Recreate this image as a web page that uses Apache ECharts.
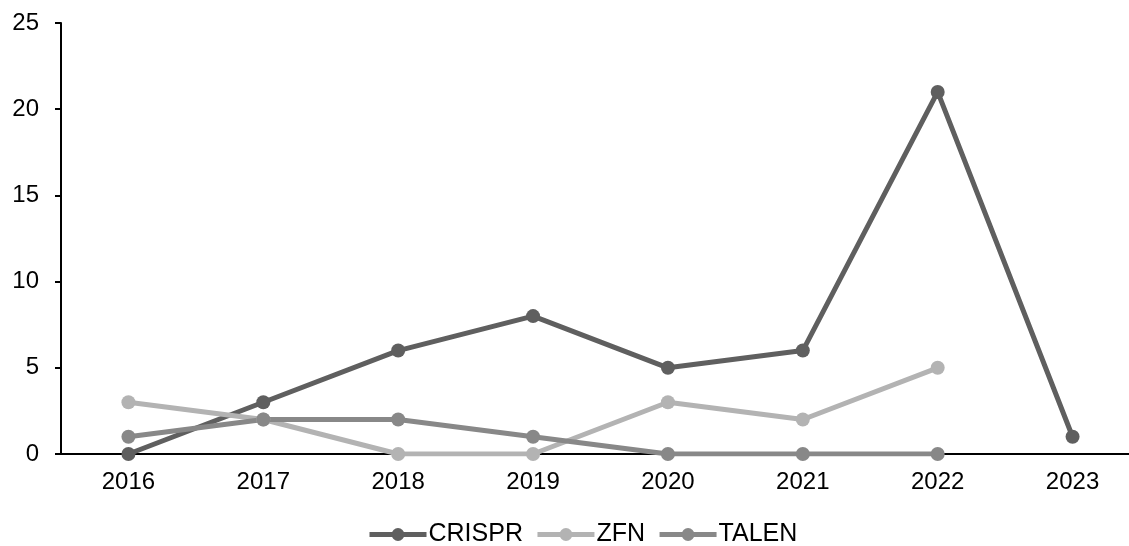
<!DOCTYPE html>
<html>
<head>
<meta charset="utf-8">
<script src="https://cdn.jsdelivr.net/npm/echarts@6/dist/echarts.min.js"></script>
<style>
  html, body { margin: 0; padding: 0; background: #fff; }
  #chart { width: 1129px; height: 546px; }
</style>
</head>
<body>
<div id="chart"></div>
<script>
var years = ['2016', '2017', '2018', '2019', '2020', '2021', '2022', '2023'];
var crispr = [0, 3, 6, 8, 5, 6, 21, 1];
var zfn = [3, 2, 0, 0, 3, 2, 5, null];
var talen = [1, 2, 2, 1, 0, 0, 0, null];

var chart = echarts.init(document.getElementById('chart'));

function lineSeries(name, data, color) {
  return {
    name: name,
    type: 'line',
    data: data,
    symbol: 'circle',
    symbolSize: 14,
    lineStyle: { width: 5, color: color },
    itemStyle: { color: color },
    emphasis: { disabled: true }
  };
}

var option = {
  animation: false,
  textStyle: { fontFamily: 'Liberation Sans, Arial, sans-serif' },
  grid: { left: 61, width: 1079, top: 23, bottom: 92, outerBoundsMode: 'none' },
  legend: {
    top: 517,
    left: 362,
    itemWidth: 57,
    itemHeight: 16,
    itemGap: 12,
    lineStyle: { width: 5 },
    textStyle: { fontSize: 25, color: '#000', padding: [0, 0, 0, -3] },
    data: ['CRISPR', 'ZFN', 'TALEN']
  },
  xAxis: {
    type: 'category',
    data: years,
    boundaryGap: true,
    axisLine: { lineStyle: { color: '#000', width: 2 } },
    axisTick: { alignWithLabel: true, length: 6, lineStyle: { color: '#000', width: 2 } },
    axisLabel: { color: '#000', fontSize: 24, margin: 16 }
  },
  yAxis: {
    type: 'value',
    min: 0,
    max: 25,
    interval: 5,
    splitLine: { show: false },
    axisLine: { show: true, lineStyle: { color: '#000', width: 2 } },
    axisTick: { show: true, length: 6, lineStyle: { color: '#000', width: 2 } },
    axisLabel: { color: '#000', fontSize: 24, margin: 22 }
  },
  series: [
    lineSeries('CRISPR', crispr, '#5f5f5f'),
    lineSeries('ZFN', zfn, '#b3b3b3'),
    lineSeries('TALEN', talen, '#888888')
  ]
};

chart.setOption(option);
</script>
</body>
</html>
